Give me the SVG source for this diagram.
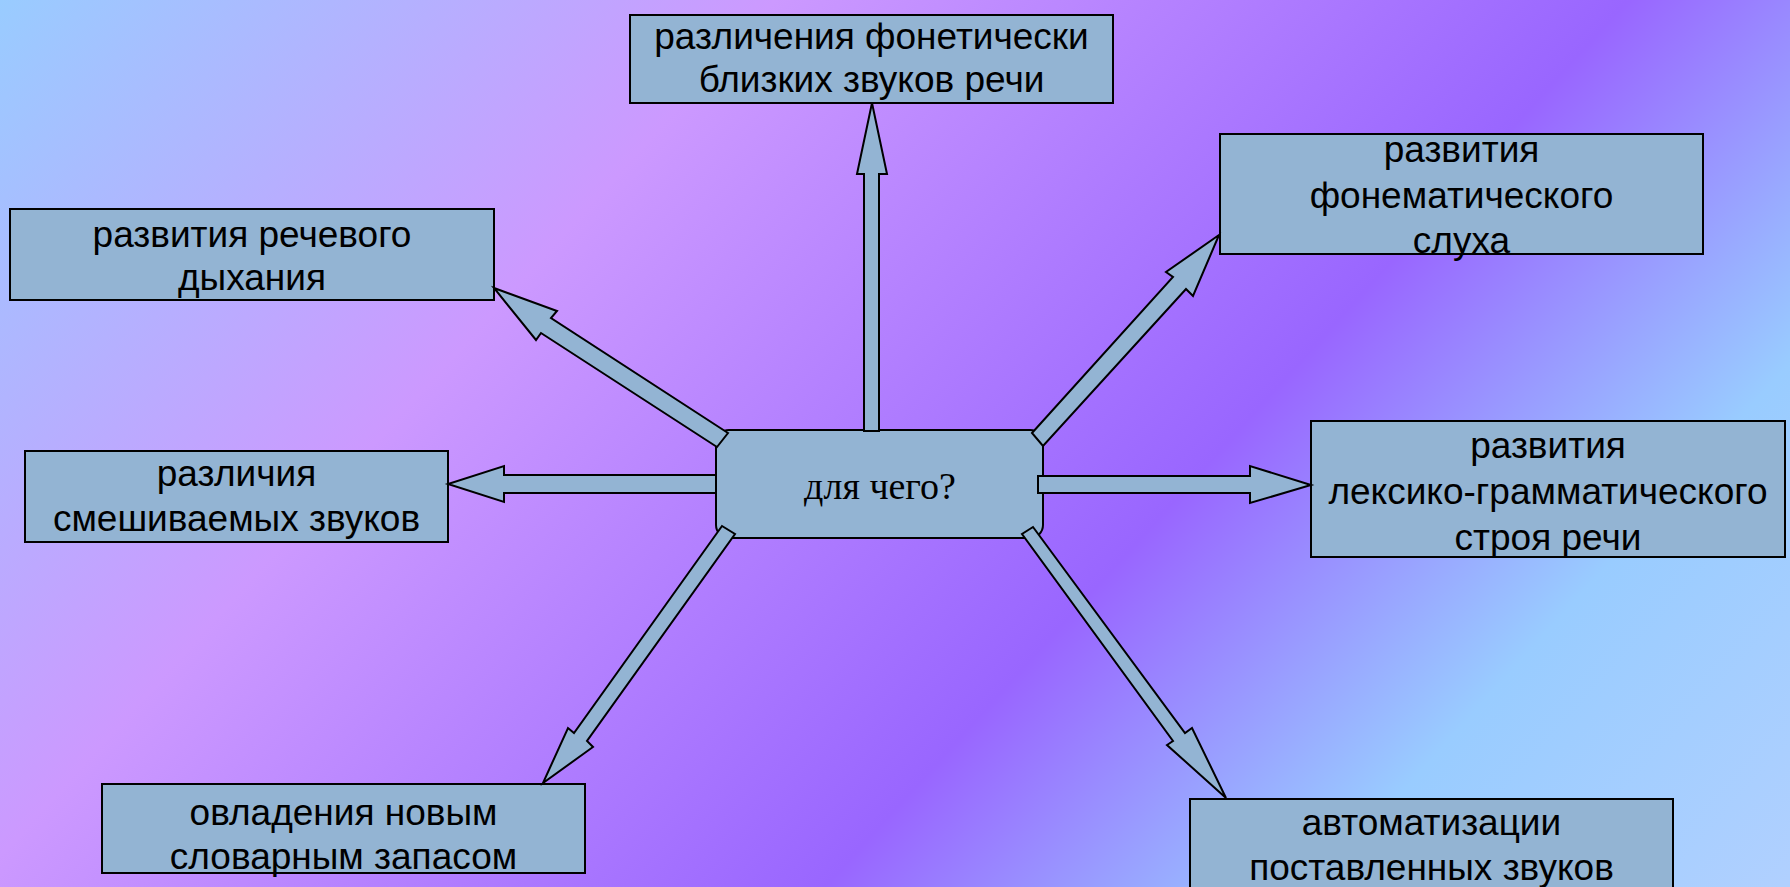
<svg xmlns="http://www.w3.org/2000/svg" width="1790" height="887" viewBox="0 0 1790 887">
<defs>
<linearGradient id="bg" gradientUnits="userSpaceOnUse" x1="0" y1="0" x2="1420" y2="1286">
<stop offset="0" stop-color="#99CCFF"/>
<stop offset="0.3" stop-color="#CC99FF"/>
<stop offset="0.63" stop-color="#9966FF"/>
<stop offset="0.82" stop-color="#99CCFF"/>
<stop offset="1" stop-color="#B0D0FF"/>
</linearGradient>
<style>
.box{fill:#93B4D3;stroke:#000;stroke-width:2}
.arr{fill:#93B4D3;stroke:#000;stroke-width:2;stroke-linejoin:miter}
.t{font-family:"Liberation Sans",Arial,sans-serif;font-size:37px;fill:#000;text-anchor:middle}
.c{font-family:"Liberation Serif","Times New Roman",serif;font-size:38px;fill:#000;text-anchor:middle}
</style>
</defs>
<rect x="0" y="0" width="1790" height="887" fill="url(#bg)"/>

<g id="n-top">
<rect class="box" x="630" y="15" width="483" height="88"/>
<text class="t" x="871.5" y="49">различения фонетически</text>
<text class="t" x="871.5" y="92">близких звуков речи</text>
</g>

<g id="n-breath">
<rect class="box" x="10" y="209" width="484" height="91"/>
<text class="t" x="252" y="247">развития речевого</text>
<text class="t" x="252" y="290">дыхания</text>
</g>

<g id="n-phonemic">
<rect class="box" x="1220" y="134" width="483" height="120"/>
<text class="t" x="1461.5" y="162">развития</text>
<text class="t" x="1461.5" y="208">фонематического</text>
<text class="t" x="1461.5" y="253">слуха</text>
</g>

<g id="n-mixed">
<rect class="box" x="25" y="451" width="423" height="91"/>
<text class="t" x="236.5" y="486">различия</text>
<text class="t" x="236.5" y="531">смешиваемых звуков</text>
</g>

<g id="n-lexical">
<rect class="box" x="1311" y="421" width="474" height="136"/>
<text class="t" x="1548" y="458">развития</text>
<text class="t" x="1548" y="504">лексико-грамматического</text>
<text class="t" x="1548" y="550">строя речи</text>
</g>

<g id="n-vocab">
<rect class="box" x="102" y="784" width="483" height="89"/>
<text class="t" x="343.5" y="825">овладения новым</text>
<text class="t" x="343.5" y="869">словарным запасом</text>
</g>

<g id="n-auto">
<rect class="box" x="1190" y="799" width="483" height="110"/>
<text class="t" x="1431.5" y="835">автоматизации</text>
<text class="t" x="1431.5" y="880">поставленных звуков</text>
</g>

<g id="n-center">
<rect class="box" x="716" y="430" width="327" height="108" rx="13" ry="13"/>
<text class="c" x="880" y="499">для чего?</text>
</g>

<g id="connectors">
<polygon class="arr" points="864,431 864,174 857,174 872,103 887,174 879,174 879,431"/>
<polygon class="arr" points="728,433 551,318 557,311 494,288 536,340 541,333 717,447"/>
<polygon class="arr" points="716,475 504,475 504,466 448,484 504,502 504,493 716,493"/>
<polygon class="arr" points="722,526 574,733 568,728 543,783 593,747 587,741 735,534"/>
<polygon class="arr" points="1033,527 1185,733 1192,728 1226,798 1167,745 1173,741 1022,534"/>
<polygon class="arr" points="1038,476 1250,476 1250,466 1311,485 1250,503 1250,493 1038,493"/>
<polygon class="arr" points="1032,433 1173,277 1166,272 1219,235 1193,296 1186,289 1043,446"/>
</g>
</svg>
